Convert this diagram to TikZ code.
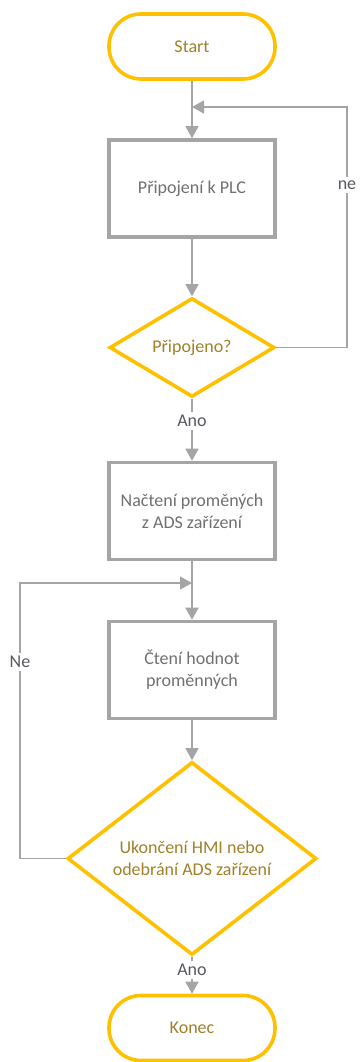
\documentclass[tikz,border=0pt]{standalone}
\usepackage{fontspec}
\setmainfont{Carlito}
\usetikzlibrary{arrows.meta,shapes.geometric}

\definecolor{gold}{RGB}{255,192,0}
\definecolor{goldtext}{RGB}{160,128,40}
\definecolor{boxline}{RGB}{165,165,165}
\definecolor{boxtext}{RGB}{112,112,112}
\definecolor{linktext}{RGB}{85,88,95}

\tikzset{
  base/.style={font=\fontsize{18}{22}\selectfont, align=center, inner sep=0pt},
  term/.style={base, draw=gold, line width=3.6pt, rounded corners=32pt,
    minimum width=166pt, minimum height=65pt, text=goldtext},
  proc/.style={base, draw=boxline, line width=3.6pt,
    minimum width=166pt, minimum height=97pt, text=boxtext},
  decision/.style={base, diamond, draw=gold, line width=3.6pt, text=goldtext},
  lbl/.style={font=\fontsize{18}{22}\selectfont, text=linktext, inner sep=3pt},
  link/.style={draw=boxline, line width=1.6pt},
  arr/.style={link, -{Triangle[length=12pt,width=13pt]}},
}

\begin{document}
\begin{tikzpicture}[x=1pt,y=-1pt]
  \useasboundingbox (0,0) rectangle (359,1062);

  % main column of steps
  \node[term] (start) at (192,46.5) {Start};
  \node[proc] (connect) at (192,188.5) {Připojení k PLC};
  \node[decision, minimum width=165pt, minimum height=99pt] (isconn) at (192,347.5) {Připojeno?};
  \node[lbl] (yes1) at (192,421) {Ano};
  \node[proc] (load) at (192,511) {Načtení proměných\\z ADS zařízení};
  \node[proc] (read) at (192,670) {Čtení hodnot\\proměnných};
  \node[decision, minimum width=249pt, minimum height=157pt] (quit) at (192,858.5) {Ukončení HMI nebo\\odebrání ADS zařízení};
  \node[lbl] (yes2) at (192,970) {Ano};
  \node[term] (stop) at (192,1028) {Konec};

  % loop labels and merge points
  \node[lbl] (no1) at (347,185) {ne};
  \node[lbl] (no2) at (20,662) {Ne};
  \coordinate (merge1) at (192,107);
  \coordinate (merge2) at (192,583);

  % straight connectors
  \draw[arr] (start) -- (connect);
  \draw[arr] (connect) -- (isconn);
  \draw[link] (isconn) -- (yes1);
  \draw[arr] (yes1) -- (load);
  \draw[arr] (load) -- (read);
  \draw[arr] (read) -- (quit);
  \draw[link] (quit) -- (yes2);
  \draw[arr] (yes2) -- (stop);

  % retry loop: not connected
  \draw[link] (isconn.east) -| (no1);
  \draw[arr] (no1) |- (merge1);

  % reading loop: keep reading
  \draw[link] (quit.west) -| (no2);
  \draw[arr] (no2) |- (merge2);
\end{tikzpicture}
\end{document}
